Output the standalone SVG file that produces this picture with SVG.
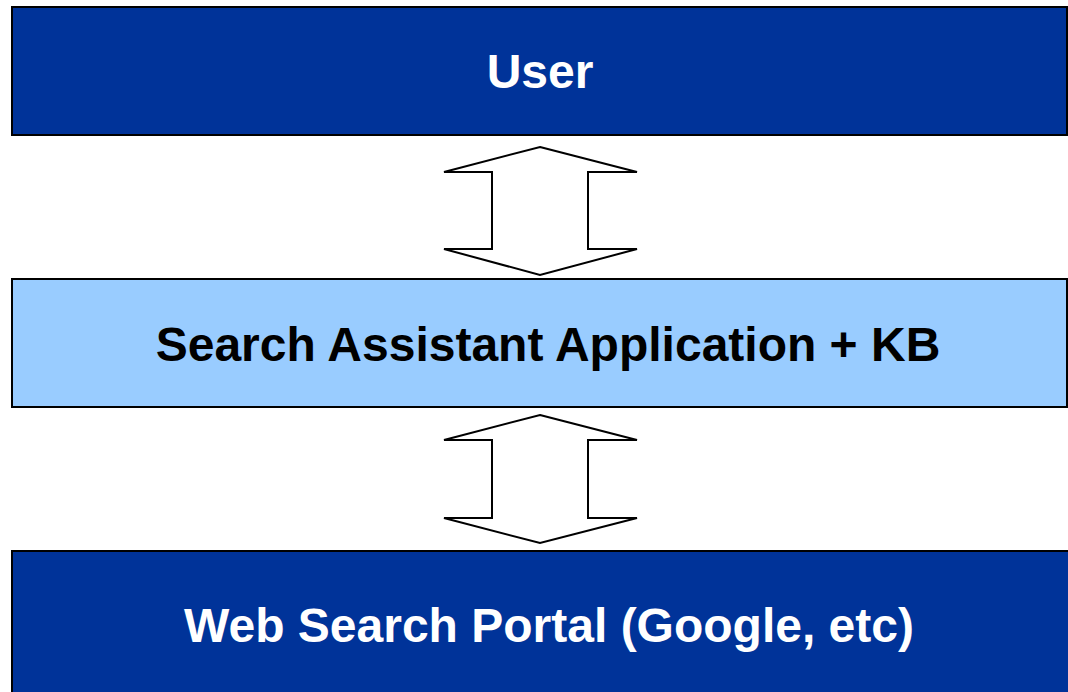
<svg xmlns="http://www.w3.org/2000/svg" width="1068" height="692" viewBox="0 0 1068 692">
  <style>
    .box { stroke: #000; stroke-width: 2; }
    .dark { fill: #003399; }
    .light { fill: #99CCFF; }
    .label { font-family: "Liberation Sans", Arial, sans-serif; font-weight: bold; font-size: 48px; text-anchor: middle; }
    .white { fill: #fff; }
    .black { fill: #000; }
    .arrow { fill: #fff; stroke: #000; stroke-width: 2; stroke-linejoin: miter; }
  </style>
  <rect width="1068" height="692" fill="#fff"/>

  <g id="user">
    <rect class="box dark" x="12" y="7" width="1055" height="128"/>
    <text class="label white" x="540" y="88">User</text>
  </g>

  <g id="assistant">
    <rect class="box light" x="12" y="279" width="1055" height="128"/>
    <text class="label black" x="548" y="361">Search Assistant Application + KB</text>
  </g>

  <g id="portal">
    <rect class="box dark" x="12" y="551" width="1070" height="150"/>
    <text class="label white" x="549" y="642">Web Search Portal (Google, etc)</text>
  </g>

  <g id="connectors">
    <polygon class="arrow" points="540,147 637,172 588,172 588,249 637,249 540,275 444,249 492,249 492,172 444,172"/>
    <polygon class="arrow" points="540,415 637,440 588,440 588,518 637,518 540,543 444,518 492,518 492,440 444,440"/>
  </g>
</svg>
